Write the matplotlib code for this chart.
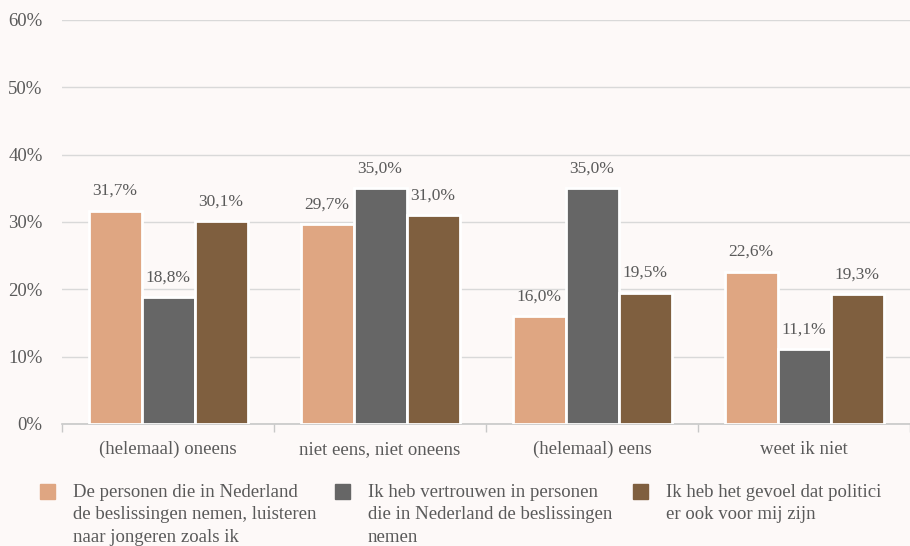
import matplotlib.pyplot as plt
from matplotlib.patches import Rectangle
import numpy as np

categories = ['(helemaal) oneens', 'niet eens, niet oneens', '(helemaal) eens', 'weet ik niet']
series_names = ['De personen die in Nederland\nde beslissingen nemen, luisteren\nnaar jongeren zoals ik',
                'Ik heb vertrouwen in personen\ndie in Nederland de beslissingen\nnemen',
                'Ik heb het gevoel dat politici\ner ook voor mij zijn']
luisteren = [31.7, 29.7, 16.0, 22.6]
vertrouwen = [18.8, 35.0, 35.0, 11.1]
politici = [30.1, 31.0, 19.5, 19.3]
colors = ['#DFA682', '#666666', '#7F5F3F']

plt.rcParams['font.family'] = ['Liberation Serif', 'DejaVu Serif']
bg = '#FDF9F8'
txt = '#5a5a5a'

fig = plt.figure(figsize=(9.1, 5.46), dpi=100, facecolor=bg)
ax = fig.add_axes([62/910, 1-424/546, 1-62/910, 404/546])
ax.set_facecolor(bg)

x = np.arange(len(categories))
w = 0.25
for i, vals in enumerate([luisteren, vertrouwen, politici]):
    bars = ax.bar(x + (i-1)*w, vals, w, color=colors[i], edgecolor='white', linewidth=2, zorder=3)
    for b, v in zip(bars, vals):
        ax.annotate(('%.1f%%' % v).replace('.', ','), (b.get_x()+b.get_width()/2, v),
                    xytext=(0, 8.5), textcoords='offset points', ha='center', va='bottom',
                    fontsize=12.5, color=txt)

ax.set_ylim(0, 60)
ax.set_xlim(-0.5, 3.5)
ax.set_yticks(range(0, 61, 10))
ax.set_yticklabels(['%d%%' % t for t in range(0, 61, 10)], fontsize=13.5, color=txt)
ax.tick_params(axis='y', length=0, pad=14)
ax.set_xticks(x)
ax.set_xticklabels(categories, fontsize=13.5, color=txt)
ax.tick_params(axis='x', length=0, pad=12)
ax.set_xticks(np.arange(-0.5, 3.6, 1), minor=True)
ax.tick_params(axis='x', which='minor', length=6, color='#c8c8c8', width=1)
ax.grid(axis='y', color='#d9d9d9', linewidth=1, zorder=0)
for s in ['top', 'right', 'left']:
    ax.spines[s].set_visible(False)
ax.spines['bottom'].set_color('#c8c8c8')
ax.spines['bottom'].set_linewidth(1.2)

# legend, drawn by hand so the squares line up with the first line of text
leg_x = [40, 335, 633]
for i, name in enumerate(series_names):
    fig.add_artist(Rectangle((leg_x[i]/910, 1-499/546), 15/910, 15/546,
                             transform=fig.transFigure, color=colors[i]))
    fig.text((leg_x[i]+33)/910, 1-484/546, name, fontsize=13.5, color=txt,
             va='top', ha='left', linespacing=1.42)

plt.savefig('out.png', facecolor=bg)
